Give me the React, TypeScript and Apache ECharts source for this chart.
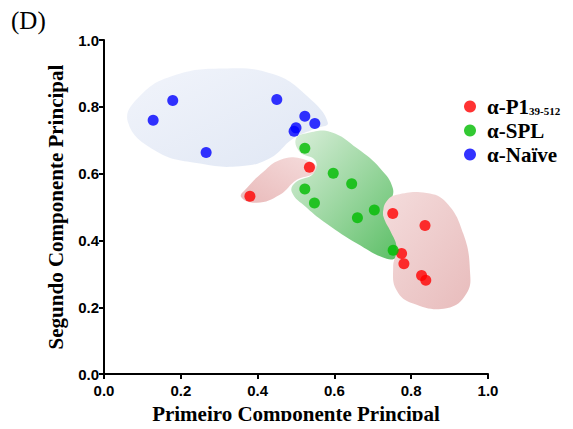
import React, { useEffect, useRef } from "react";
import * as echarts from "echarts";

const seriesNames = ["α-P1", "α-SPL", "α-Naïve"];
const seriesColors = ["#ff0000", "#00bb00", "#0000ff"];

const p1Points: [number, number][] = [
  [0.380, 0.532], [0.535, 0.619], [0.752, 0.481], [0.836, 0.445],
  [0.775, 0.361], [0.781, 0.330], [0.827, 0.295], [0.838, 0.281],
];
const splPoints: [number, number][] = [
  [0.523, 0.676], [0.597, 0.601], [0.645, 0.570], [0.523, 0.554],
  [0.548, 0.512], [0.704, 0.491], [0.660, 0.468], [0.753, 0.371],
];
const naivePoints: [number, number][] = [
  [0.128, 0.760], [0.179, 0.819], [0.266, 0.663], [0.450, 0.822],
  [0.523, 0.772], [0.549, 0.750], [0.500, 0.737], [0.495, 0.727],
];

// Outline vertices of the shaded group regions (data coordinates)
const naiveRegion: [number, number][] = [
  [0.062, 0.755], [0.094, 0.833], [0.18, 0.893], [0.31, 0.915], [0.44, 0.898],
  [0.528, 0.833], [0.583, 0.752], [0.55, 0.735], [0.493, 0.705], [0.432, 0.646],
  [0.354, 0.622], [0.25, 0.63], [0.137, 0.666],
];
const splRegion: [number, number][] = [
  [0.50, 0.705], [0.53, 0.722], [0.59, 0.725], [0.66, 0.675], [0.72, 0.615],
  [0.752, 0.557], [0.745, 0.515], [0.727, 0.48], [0.752, 0.44], [0.765, 0.38],
  [0.762, 0.35], [0.736, 0.345], [0.66, 0.39], [0.58, 0.45], [0.528, 0.498],
  [0.489, 0.545], [0.50, 0.575], [0.545, 0.60], [0.55, 0.64], [0.51, 0.665],
];
const p1SmallRegion: [number, number][] = [
  [0.357, 0.53], [0.372, 0.557], [0.415, 0.606], [0.458, 0.641], [0.51, 0.646],
  [0.558, 0.616], [0.54, 0.597], [0.502, 0.582], [0.458, 0.537], [0.398, 0.513],
];
const p1LargeRegion: [number, number][] = [
  [0.736, 0.517], [0.762, 0.537], [0.84, 0.542], [0.892, 0.513], [0.936, 0.419],
  [0.953, 0.31], [0.944, 0.241], [0.892, 0.197], [0.805, 0.211], [0.762, 0.251],
  [0.753, 0.32], [0.762, 0.379], [0.745, 0.43], [0.732, 0.458], [0.727, 0.483],
];

const regions = [
  { pts: naiveRegion, stops: ["#f1f4fb", "#e0e7f4"], dir: [0, 0, 1, 1] },
  { pts: p1SmallRegion, stops: ["#e9baba", "#f5dcdc"], dir: [0, 1, 1, 0] },
  { pts: splRegion, stops: ["#dcefdc", "#5cbf66"], dir: [0, 0, 1, 1] },
  { pts: p1LargeRegion, stops: ["#f4dcdc", "#e8bcbc"], dir: [0, 0, 1, 1] },
];

export default function App() {
  const ref = useRef<HTMLDivElement>(null);
  useEffect(() => {
    if (!ref.current) return;
    const chart = echarts.init(ref.current, null, { renderer: "svg" });
    const tickLabel = {
      fontFamily: "Liberation Sans, Arial, sans-serif",
      fontWeight: "bold" as const,
      fontSize: 15,
      color: "#000",
      formatter: (v: number) => v.toFixed(1),
    };
    const axisLine = { show: true, lineStyle: { color: "#000", width: 2 } };
    const axisTick = { show: true, length: 5, lineStyle: { color: "#000", width: 2 } };
    const nameStyle = {
      fontFamily: "Liberation Serif, Times New Roman, serif",
      fontWeight: "bold" as const,
      fontSize: 21,
      color: "#000",
    };
    chart.setOption({
      animation: false,
      backgroundColor: "#fff",
      grid: { left: 104, right: 85, top: 40, bottom: 51 },
      graphic: [
        {
          type: "text",
          left: 11,
          top: 8,
          style: {
            text: "(D)",
            font: "25px 'Liberation Serif', 'Times New Roman', serif",
            fill: "#000",
          },
        },
      ],
      legend: {
        orient: "vertical",
        left: 464,
        top: 96,
        padding: 0,
        icon: "circle",
        itemWidth: 12,
        itemHeight: 12,
        itemGap: 3,
        data: seriesNames,
        formatter: (name: string) =>
          name === "α-P1" ? "{a|α-P1}{s|39-512}" : "{a|" + name + "}",
        textStyle: {
          padding: [0, 0, 0, 6],
          rich: {
            a: { ...nameStyle, fontSize: 21, lineHeight: 21 },
            s: { ...nameStyle, fontSize: 11, lineHeight: 21, padding: [9, 0, 0, 0] },
          },
        },
      },
      xAxis: {
        type: "value",
        min: 0,
        max: 1,
        interval: 0.2,
        axisLine,
        axisTick,
        splitLine: { show: false },
        axisLabel: { ...tickLabel, margin: 9 },
        name: "Primeiro Componente Principal",
        nameLocation: "middle",
        nameGap: 27,
        nameTextStyle: nameStyle,
      },
      yAxis: {
        type: "value",
        min: 0,
        max: 1,
        interval: 0.2,
        axisLine,
        axisTick,
        splitLine: { show: false },
        axisLabel: { ...tickLabel, margin: 5 },
        name: "Segundo Componente Principal",
        nameLocation: "middle",
        nameGap: 38,
        nameTextStyle: nameStyle,
      },
      series: [
        {
          type: "custom",
          name: "regions",
          silent: true,
          z: 1,
          data: regions.map((_, i) => [i]),
          renderItem: (params: any, api: any) => {
            const r = regions[params.dataIndex];
            const points = r.pts.map((p) => api.coord(p));
            return {
              type: "polygon",
              shape: { points, smooth: 0.45 },
              style: {
                fill: new echarts.graphic.LinearGradient(
                  r.dir[0], r.dir[1], r.dir[2], r.dir[3],
                  [
                    { offset: 0, color: r.stops[0] },
                    { offset: 1, color: r.stops[1] },
                  ]
                ),
                stroke: "none",
              },
            };
          },
        },
        {
          type: "scatter",
          name: seriesNames[0],
          data: p1Points,
          symbolSize: 11,
          itemStyle: { color: seriesColors[0] },
          z: 3,
        },
        {
          type: "scatter",
          name: seriesNames[1],
          data: splPoints,
          symbolSize: 11,
          itemStyle: { color: seriesColors[1] },
          z: 3,
        },
        {
          type: "scatter",
          name: seriesNames[2],
          data: naivePoints,
          symbolSize: 11,
          itemStyle: { color: seriesColors[2] },
          z: 3,
        },
      ],
    });
    return () => chart.dispose();
  }, []);
  return <div ref={ref} style={{ width: 573, height: 429, margin: -8 }} />;
}
